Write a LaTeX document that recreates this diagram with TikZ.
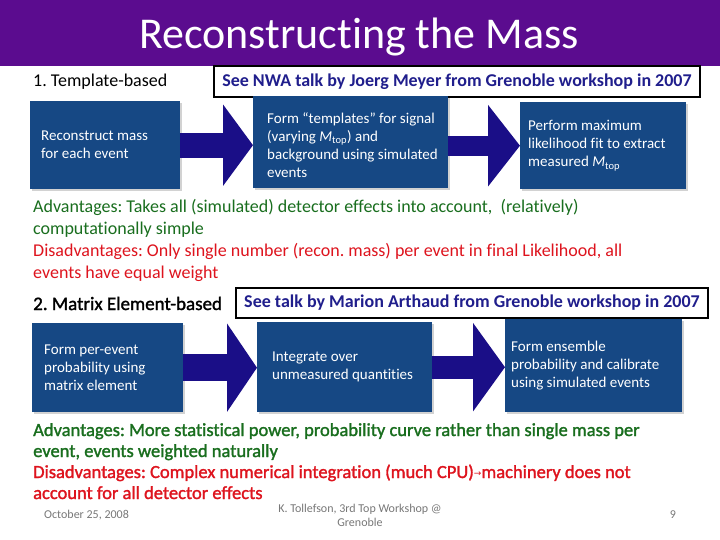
\documentclass[tikz,border=0pt]{standalone}
\usepackage{fontspec}
\setmainfont[Ligatures={TeX,NoCommon}]{Carlito}
\newfontfamily\symfont{DejaVu Sans}
\newfontfamily\semibold[FakeBold=1.5,Ligatures={TeX,NoCommon}]{Carlito}
\usetikzlibrary{arrows.meta, shadows}
\definecolor{titlepurple}{RGB}{91,12,143}
\definecolor{boxblue}{RGB}{22,72,132}
\definecolor{arrowblue}{RGB}{26,14,135}
\definecolor{okgreen}{RGB}{25,110,30}
\definecolor{badred}{RGB}{222,20,30}
\definecolor{notenavy}{RGB}{32,30,140}
\definecolor{footgray}{RGB}{120,120,120}

\tikzset{
  stepbox/.style={fill=boxblue, inner sep=0pt, anchor=north west,
    drop shadow={opacity=0.35, shadow xshift=2pt, shadow yshift=-2pt}},
  boxtext/.style={text=white, anchor=west, align=left, inner sep=0pt,
    font=\fontsize{15}{18}\selectfont},
  bigarrow/.style n args={3}{arrowblue, line width=#1,
    -{Triangle[length=#2, width=#3]}},
  notebox/.style={draw=black, line width=2.5pt, fill=white, text=notenavy,
    font=\bfseries\fontsize{18}{20}\selectfont},
  rowhead/.style={anchor=base west, inner sep=0pt, font=\fontsize{18}{22}\selectfont},
  prostext/.style={anchor=base west, align=left, inner sep=0pt, text=okgreen},
  constext/.style={anchor=base west, align=left, inner sep=0pt, text=badred},
  foot/.style={text=footgray, inner sep=0pt, font=\fontsize{12}{14}\selectfont}
}

\begin{document}
\frenchspacing
\begin{tikzpicture}[x=1pt,y=-1pt]
    \useasboundingbox (0,0) rectangle (720,540);
    \fill[white] (0,0) rectangle (720,540);

    % Title bar
    \fill[titlepurple] (0,0) rectangle (720,66);
    \node[text=white, anchor=base, inner sep=0pt, font=\fontsize{44}{48}\selectfont]
        (title) at (359,49) {Reconstructing the Mass};

    % 1. Template-based
    \node[rowhead] (tplhead) at (33,87) {1. Template-based};
    \node[notebox, minimum width=486pt, minimum height=31pt] (nwanote) at (457,81.5)
        {See NWA talk by Joerg Meyer from Grenoble workshop in 2007};

    \node[stepbox, minimum width=150pt, minimum height=88pt] (recon) at (30,101) {};
    \node[stepbox, minimum width=195pt, minimum height=92pt] (templ) at (253,96) {};
    \node[stepbox, minimum width=166pt, minimum height=87pt] (fit) at (520,102) {};

    \draw[bigarrow={25pt}{30pt}{80pt}] (recon.east) -- (recon.east -| templ.west);
    \draw[bigarrow={20pt}{32pt}{80pt}] (templ.east |- fit.west) -- (fit.west);

    \node[boxtext] (recontxt) at ([xshift=11pt]recon.west)
        {Reconstruct mass\\for each event};
    \node[boxtext] (templtxt) at ([xshift=14pt,yshift=-3pt]templ.west)
        {Form ``templates'' for signal\\(varying \textit{M}\textsubscript{top}) and\\background using simulated\\events};
    \node[boxtext] (fittxt) at ([xshift=8pt]fit.west)
        {Perform maximum\\likelihood fit to extract\\measured \textit{M}\textsubscript{top}};

    % base of a two-line node = baseline of its last line
    \node[prostext, font=\fontsize{18}{21.5}\selectfont] (tplpros) at (33,234)
        {Advantages: Takes all (simulated) detector effects into account,~ (relatively)\\computationally simple};
    \node[constext, font=\fontsize{18}{21.5}\selectfont] (tplcons) at (33,278)
        {Disadvantages: Only single number (recon. mass) per event in final Likelihood, all\\events have equal weight};

    % 2. Matrix Element-based
    \node[rowhead, font=\semibold\fontsize{19}{22}\selectfont] (mehead) at (33,310) {2. Matrix Element-based};
    \node[notebox, minimum width=472pt, minimum height=30pt] (marionnote) at (472,303)
        {See talk by Marion Arthaud from Grenoble workshop in 2007};

    \node[stepbox, minimum width=151pt, minimum height=89pt] (perevt) at (32,323) {};
    \node[stepbox, minimum width=175pt, minimum height=90pt] (integ) at (257,322) {};
    \node[stepbox, minimum width=177pt, minimum height=93pt] (ensem) at (505,319) {};

    \draw[bigarrow={27pt}{30pt}{87pt}] (perevt.east) -- (perevt.east -| integ.west);
    \draw[bigarrow={23pt}{32pt}{87pt}] (integ.east) -- (integ.east -| ensem.west);

    \node[boxtext] (perevttxt) at ([xshift=12pt]perevt.west)
        {Form per-event\\probability using\\matrix element};
    \node[boxtext] (integtxt) at ([xshift=15pt]integ.west)
        {Integrate over\\unmeasured quantities};
    \node[boxtext] (ensemtxt) at ([xshift=6pt]ensem.west)
        {Form ensemble\\probability and calibrate\\using simulated events};

    \node[prostext, font=\semibold\fontsize{18.5}{21}\selectfont] (mepros) at (33,457)
        {Advantages: More statistical power, probability curve rather than single mass per\\event, events weighted naturally};
    \node[constext, font=\semibold\fontsize{18.5}{21}\selectfont] (mecons) at (33,499)
        {Disadvantages: Complex numerical integration (much CPU){\symfont\fontsize{9}{9}\selectfont\raisebox{0.35ex}{→}}machinery does not\\account for all detector effects};

    % Footer
    \node[foot, anchor=west] (date) at (44,515) {October 25, 2008};
    \node[foot, align=center] (author) at (360,515) {K. Tollefson, 3rd Top Workshop @\\Grenoble};
    \node[foot] (pagenum) at (673,515) {9};
\end{tikzpicture}
\end{document}
